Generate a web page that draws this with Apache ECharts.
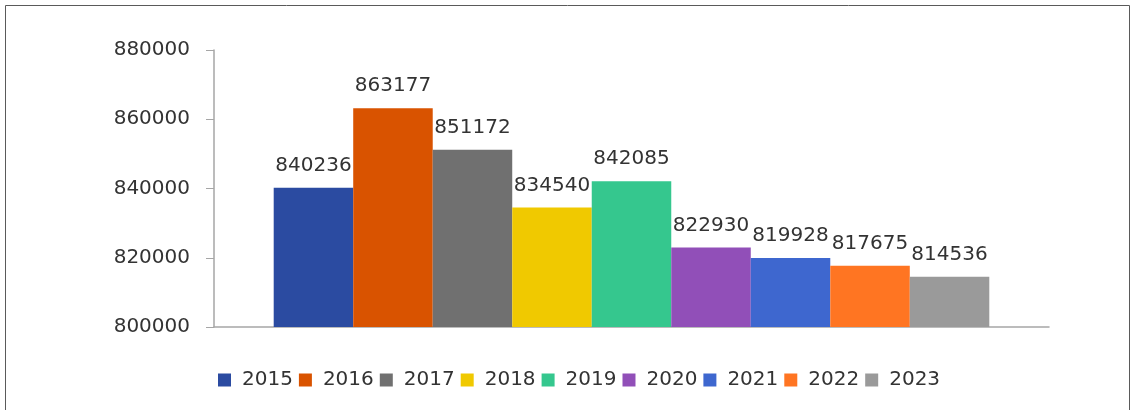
<!DOCTYPE html>
<html>
<head>
<meta charset="utf-8">
<script src="https://cdn.jsdelivr.net/npm/echarts@6/dist/echarts.min.js"></script>
<style>
  html, body { margin: 0; padding: 0; background: #fff; }
  #chart { width: 1134px; height: 410px; }
</style>
</head>
<body>
<div id="chart"></div>
<script>
// Yearly totals, one bar per year
const years = ['2015', '2016', '2017', '2018', '2019', '2020', '2021', '2022', '2023'];
const values = [840236, 863177, 851172, 834540, 842085, 822930, 819928, 817675, 814536];
const colors = ['#2B4BA1', '#D95300', '#707070', '#F0C900', '#35C78E', '#914FB8', '#3E67CF', '#FF7522', '#9A9A9A'];
const yTicks = { min: 800000, max: 880000, interval: 20000 };

const font = '"DejaVu Sans", sans-serif';

const series = years.map((y, i) => ({
  name: y,
  type: 'bar',
  data: [values[i]],
  barGap: '0%',
  barCategoryGap: '14.3%',
  itemStyle: { color: colors[i] },
  label: {
    show: true,
    position: 'top',
    distance: 12,
    color: '#333',
    fontSize: 20,
    fontFamily: font
  }
}));

const chart = echarts.init(document.getElementById('chart'), null, { renderer: 'canvas' });
chart.setOption({
  animation: false,
  backgroundColor: '#fff',
  color: colors,
  graphic: [{
    type: 'rect',
    shape: { x: 5.5, y: 5.5, width: 1124, height: 430 },
    style: { fill: 'none', stroke: '#5a5a5a', lineWidth: 1 },
    silent: true
  }],
  grid: { left: 214, right: 85, top: 50, bottom: 83 },
  legend: {
    data: years,
    top: 370,
    left: 218,
    padding: 0,
    itemWidth: 13,
    itemHeight: 13,
    itemGap: 6,
    icon: 'rect',
    textStyle: { color: '#333', fontSize: 20, fontFamily: font, padding: [0, 0, 0, 6] }
  },
  xAxis: {
    type: 'category',
    data: [''],
    axisLine: { lineStyle: { color: '#a6a6a6', width: 1.5 } },
    axisTick: { show: false },
    axisLabel: { show: false }
  },
  yAxis: {
    type: 'value',
    min: yTicks.min,
    max: yTicks.max,
    interval: yTicks.interval,
    axisLine: { show: true, lineStyle: { color: '#a6a6a6', width: 1.5 } },
    axisTick: { show: true, length: 8, lineStyle: { color: '#a6a6a6' } },
    splitLine: { show: false },
    axisLabel: {
      color: '#333',
      fontSize: 20,
      fontFamily: font,
      margin: 24,
      formatter: v => String(v)
    }
  },
  series: series
});
</script>
</body>
</html>
